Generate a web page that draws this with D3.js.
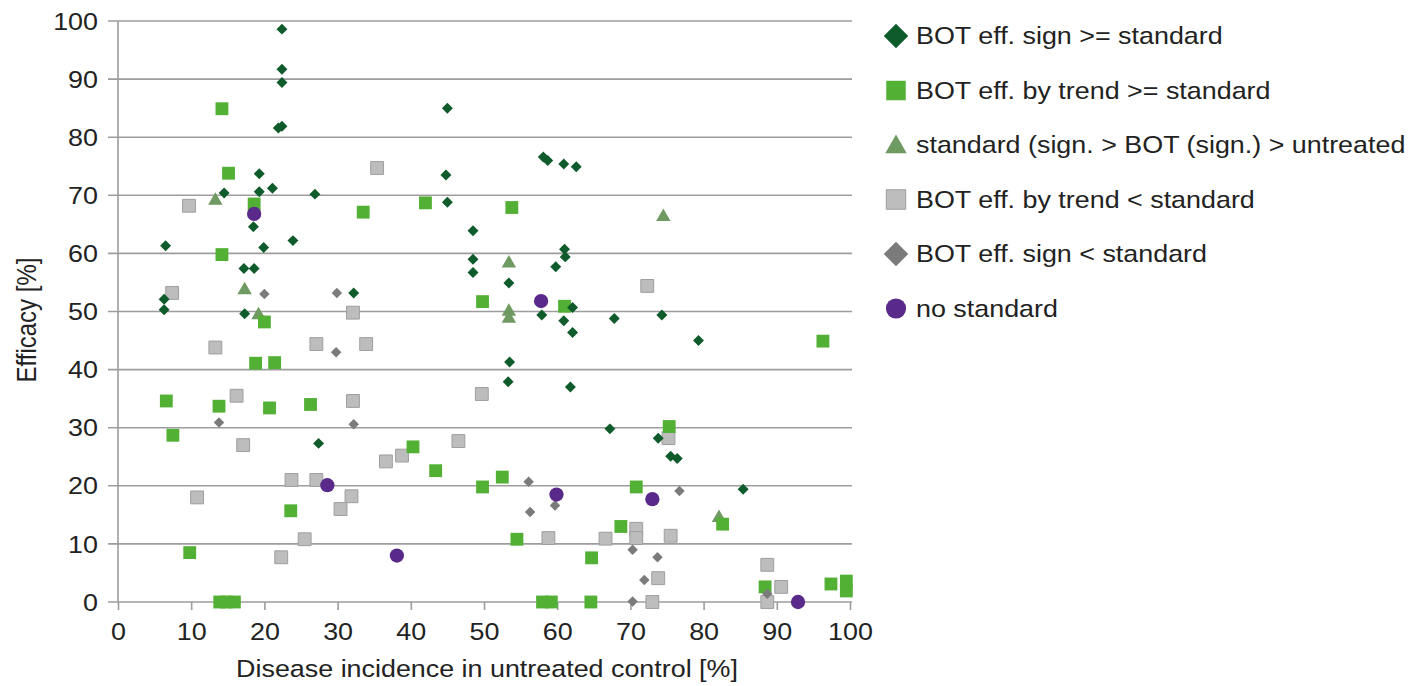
<!DOCTYPE html>
<html>
<head>
<meta charset="utf-8">
<script src="https://cdn.jsdelivr.net/npm/d3@7"></script>
<style>
  body { margin: 0; background: #fff; }
  text { font-family: "Liberation Sans", Arial, sans-serif; fill: #222; }
</style>
</head>
<body>
<div id="chart"></div>
<script>
// [disease incidence %, efficacy %]
const signGeStd = [[22.4,98.6],[22.4,91.7],[22.4,89.4],[22.4,81.9],[21.9,81.6],
  [45.0,85.0],[58.1,76.6],[58.7,76.0],[60.9,75.4],[62.6,74.9],[44.8,73.5],
  [19.3,73.7],[14.5,70.4],[19.3,70.6],[21.1,71.2],[26.9,70.2],[45.0,68.8],
  [48.5,63.9],[48.5,59.0],[48.5,56.7],[61.0,60.7],[61.1,59.4],[59.8,57.7],[53.4,54.9],
  [32.2,53.2],[6.3,52.1],[6.3,50.3],[17.3,49.6],[18.5,64.6],[6.5,61.3],[19.9,61.0],
  [23.9,62.2],[17.2,57.4],[18.6,57.4],[57.9,49.4],[60.9,48.4],[62.1,50.7],[62.1,46.4],
  [67.8,48.8],[74.3,49.4],[79.3,45.0],[53.5,41.3],[53.3,37.9],[61.8,37.0],[67.2,29.8],
  [73.8,28.2],[75.5,25.1],[76.4,24.7],[27.4,27.3],[85.4,19.4]];
const trendGeStd = [[14.2,84.9],[15.1,73.8],[18.6,68.5],[14.2,59.8],[20.0,48.2],[18.8,41.1],
  [21.4,41.2],[6.6,34.6],[13.8,33.7],[20.7,33.4],[26.3,34.0],[7.5,28.7],[23.6,15.7],[9.8,8.5],
  [13.9,0],[14.8,0],[15.9,0],[33.5,67.1],[42.0,68.7],[53.8,67.9],[49.8,51.7],[61.0,50.9],
  [40.3,26.7],[43.4,22.6],[52.5,21.5],[49.8,19.8],[54.5,10.8],[64.7,7.6],[58.0,0],[59.2,0],
  [64.6,0],[96.3,44.9],[75.3,30.2],[70.8,19.8],[68.7,13.0],[82.6,13.4],[88.4,2.6],[97.4,3.1],
  [99.5,3.6],[99.5,1.9]];
const stdSign = [[13.3,69.1],[17.3,53.7],[19.2,49.4],[53.4,58.3],[53.4,50.0],[53.4,48.8],
  [74.5,66.3],[82.1,14.5]];
const trendLtStd = [[9.7,68.2],[7.4,53.2],[13.3,43.8],[27.1,44.4],[33.9,44.4],[32.1,49.8],
  [16.2,35.5],[32.1,34.6],[17.1,27.0],[23.7,21.0],[27.1,21.0],[10.8,18.0],[31.9,18.2],
  [30.4,16.0],[25.5,10.8],[22.3,7.7],[35.4,74.7],[49.7,35.8],[46.5,27.7],[36.6,24.2],
  [38.8,25.2],[58.8,11.0],[66.6,10.9],[70.8,12.6],[70.8,11.0],[75.5,11.4],[75.2,28.2],
  [72.3,54.4],[73.8,4.1],[73.0,0],[88.7,6.4],[90.6,2.6],[88.7,0]];
const signLtStd = [[13.8,30.9],[32.2,30.6],[20.0,53.0],[29.9,53.2],[29.8,43.0],[56.1,20.7],
  [56.3,15.5],[59.7,16.6],[70.3,9.0],[73.7,7.7],[71.9,3.8],[70.3,0.1],[76.7,19.1],[88.7,1.4]];
const noStd = [[18.6,66.8],[57.8,51.8],[28.6,20.1],[59.9,18.5],[73.0,17.7],[38.1,8.0],[92.9,0]];

const seriesNames = ["BOT eff. sign >= standard", "BOT eff. by trend >= standard",
  "standard (sign. > BOT (sign.) > untreated", "BOT eff. by trend < standard",
  "BOT eff. sign < standard", "no standard"];
const xTicks = d3.range(0, 101, 10);
const yTicks = d3.range(0, 101, 10);

const W = 1416, H = 686;
const stretch = "scale(1.12,1)";

const svg = d3.select("#chart").append("svg")
  .attr("width", W).attr("height", H);

const x = d3.scaleLinear().domain([0, 100]).range([118, 850]);
const y = d3.scaleLinear().domain([0, 100]).range([602, 21]);

// grid lines (run a bit left of the axis, like tick marks)
svg.append("g").selectAll("line")
  .data(yTicks)
  .enter().append("line")
  .attr("x1", 108).attr("x2", 852)
  .attr("y1", d => y(d)).attr("y2", d => y(d))
  .attr("stroke", "#9d9d9d").attr("stroke-width", 1.6);

svg.append("line")
  .attr("x1", 118).attr("x2", 118)
  .attr("y1", y(100)).attr("y2", y(0))
  .attr("stroke", "#9d9d9d").attr("stroke-width", 1.6);

var yAxis = d3.axisLeft(y).tickValues(yTicks).tickSize(0).tickPadding(0);
var gy = svg.append("g").attr("transform", "translate(118,0)").call(yAxis);
gy.select(".domain").remove();
gy.selectAll("text")
  .attr("x", 0).attr("dy", "0.34em")
  .attr("transform", "translate(-20,0) " + stretch)
  .style("font-size", "24px").style("font-family", null);

var xAxis = d3.axisBottom(x).tickValues(xTicks).tickSize(8).tickPadding(13);
var gx = svg.append("g").attr("transform", "translate(0,602)").call(xAxis);
gx.select(".domain").remove();
gx.selectAll("line").attr("stroke", "#9d9d9d").attr("stroke-width", 1.6);
gx.selectAll("text")
  .attr("transform", stretch)
  .style("font-size", "24px").style("font-family", null);

// axis titles
svg.append("text")
  .attr("transform", "translate(487,677) " + stretch)
  .attr("text-anchor", "middle")
  .style("font-size", "24px")
  .text("Disease incidence in untreated control [%]");

svg.append("text")
  .attr("transform", "translate(36,320) " + stretch + " rotate(-90)")
  .attr("text-anchor", "middle")
  .style("font-size", "24px")
  .text("Efficacy [%]");

// series styling
const styles = [
  { data: signGeStd, shape: d3.symbolSquare, size: 60, rot: 45, fill: "#0f5b2b", stroke: "none", lsize: 300 },
  { data: trendGeStd, shape: d3.symbolSquare, size: 165, rot: 0, fill: "#52b035", stroke: "none", lsize: 380 },
  { data: stdSign, shape: d3.symbolTriangle, size: 90, rot: 0, fill: "#6f9a62", stroke: "none", lsize: 200 },
  { data: trendLtStd, shape: d3.symbolSquare, size: 165, rot: 0, fill: "#bdbdbd", stroke: "#9e9e9e", lsize: 380 },
  { data: signLtStd, shape: d3.symbolSquare, size: 55, rot: 45, fill: "#7b7b7b", stroke: "none", lsize: 300 },
  { data: noStd, shape: d3.symbolCircle, size: 160, rot: 0, fill: "#5a2a8a", stroke: "none", lsize: 320 }
];

const drawOrder = [3, 2, 1, 4, 0, 5];
drawOrder.forEach(function (i) {
  var s = styles[i];
  svg.append("g").selectAll("path")
    .data(s.data)
    .enter().append("path")
    .attr("d", d3.symbol().type(s.shape).size(s.size))
    .attr("transform", d => "translate(" + x(d[0]) + "," + y(d[1]) + ") rotate(" + s.rot + ")")
    .attr("fill", s.fill)
    .attr("stroke", s.stroke)
    .attr("stroke-width", 1);
});

// legend
var legend = svg.append("g");
seriesNames.forEach(function (name, i) {
  var s = styles[i];
  var cy = 36 + i * 54.5;
  legend.append("path")
    .attr("d", d3.symbol().type(s.shape).size(s.lsize))
    .attr("transform", "translate(896," + (cy + (s.shape === d3.symbolTriangle ? 2 : 0)) + ") rotate(" + s.rot + ")")
    .attr("fill", s.fill)
    .attr("stroke", s.stroke);
  legend.append("text")
    .attr("transform", "translate(916," + cy + ") " + stretch)
    .attr("dy", "0.35em")
    .style("font-size", "24px")
    .text(name);
});
</script>
</body>
</html>
